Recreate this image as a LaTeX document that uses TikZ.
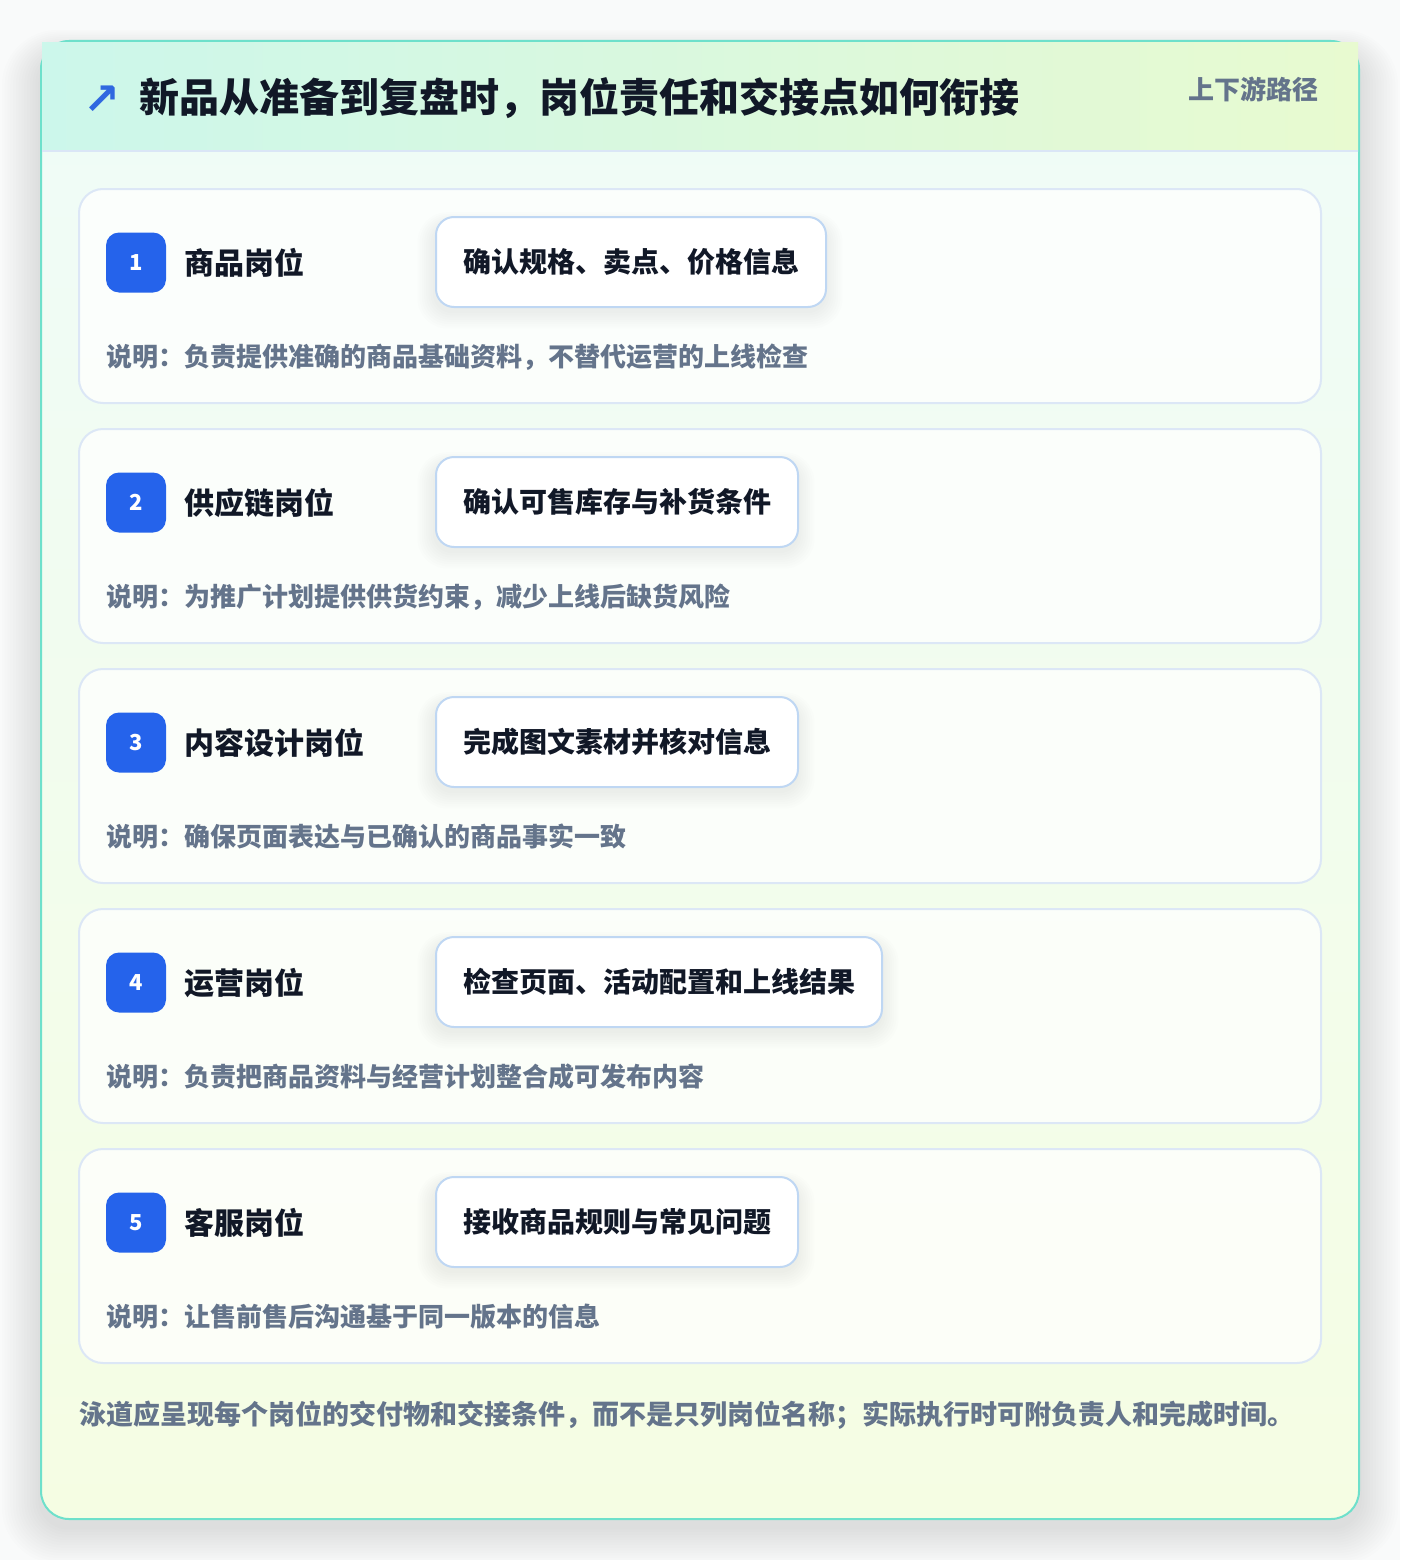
\documentclass[tikz,border=0pt]{standalone}
\usepackage{fontspec}
\setmainfont{Noto Sans CJK SC}
\newfontfamily\symfont{DejaVu Sans}
\definecolor{pagebg}{HTML}{F9FAFA}
\definecolor{ink}{HTML}{111827}
\definecolor{slate}{HTML}{64748B}
\definecolor{badgeblue}{HTML}{2563EB}
\definecolor{arrowblue}{HTML}{3068E0}
\definecolor{cardb}{HTML}{DCE7F6}
\definecolor{actb}{HTML}{BFD7F3}
\definecolor{outerb}{HTML}{6EE0CB}
\definecolor{hdrL}{HTML}{CCF7EB}
\definecolor{hdrR}{HTML}{E8FAD0}
\definecolor{bodyT}{HTML}{EFFCF8}
\definecolor{bodyB}{HTML}{F5FDE3}
\definecolor{sep}{HTML}{DAE6F6}
\tikzset{
  card/.style={draw=cardb, line width=2pt, fill=white, fill opacity=0.75, rounded corners=24pt,
    minimum width=1242pt, minimum height=214pt, inner sep=0pt},
  badge/.style={fill=badgeblue, rounded corners=13pt, minimum width=60pt, minimum height=60pt,
    inner sep=0pt, text=white, font=\bfseries\fontsize{22}{22}\selectfont},
  role/.style={anchor=west, inner sep=0pt, text=ink, font=\bfseries\fontsize{30}{30}\selectfont},
  act/.style={anchor=west, draw=actb, line width=2pt, fill=white, rounded corners=18pt,
    minimum height=90pt, inner xsep=27pt, inner ysep=0pt, text=ink, font=\bfseries\fontsize{28}{28}\selectfont},
  desc/.style={anchor=west, inner sep=0pt, text=slate, font=\bfseries\fontsize{26}{26}\selectfont},
}
\begin{document}
\begin{tikzpicture}[x=1pt,y=-1pt]
\useasboundingbox (0,0) rectangle (1400,1560);
\fill[pagebg] (0,0) rectangle (1400,1560);
% outer shadow
\foreach \k in {1,...,14}{
  \fill[black, opacity=0.007, rounded corners=28pt+\k*2pt]
    (41-\k*2.8,41+14-\k*1.8) rectangle (1359+\k*2.8,1519+8+\k*2.6);
}
% outer card body
\shade[top color=bodyT, bottom color=bodyB, rounded corners=28pt] (41,41) rectangle (1359,1519);
\draw[outerb, line width=2pt, rounded corners=28pt] (41,41) rectangle (1359,1519);
% header
\shade[left color=hdrL, right color=hdrR] (42,42.5) rectangle (1358,151);
\draw[sep, line width=2pt] (42,151) -- (1358,151);
\node[anchor=center, inner sep=0pt, text=arrowblue, font=\symfont\bfseries\fontsize{44}{44}\selectfont] (icon) at (102,100) {↗};
\node[anchor=west, inner sep=0pt, text=ink, font=\bfseries\fontsize{40}{40}\selectfont] (title) at (139,98) {新品从准备到复盘时，岗位责任和交接点如何衔接};
\node[anchor=east, inner sep=0pt, text=slate, font=\bfseries\fontsize{26}{26}\selectfont] (tag) at (1319,89) {上下游路径};
% rows
\foreach \i/\n/\role/\act/\desc in {
  1/12/{商品岗位}/{确认规格、卖点、价格信息}/{说明：负责提供准确的商品基础资料，不替代运营的上线检查},
  2/11/{供应链岗位}/{确认可售库存与补货条件}/{说明：为推广计划提供供货约束，减少上线后缺货风险},
  3/11/{内容设计岗位}/{完成图文素材并核对信息}/{说明：确保页面表达与已确认的商品事实一致},
  4/14/{运营岗位}/{检查页面、活动配置和上线结果}/{说明：负责把商品资料与经营计划整合成可发布内容},
  5/11/{客服岗位}/{接收商品规则与常见问题}/{说明：让售前售后沟通基于同一版本的信息}}{
  \pgfmathsetmacro{\top}{189+240*(\i-1)}
  \pgfmathsetmacro{\right}{435+54+28*\n}
  \node[card] (card\i) at (700,\top+107) {};
  \node[badge] (badge\i) at (136,\top+73.5) {\i};
  \node[role] (role\i) at (184,\top+74) {\role};
  % action shadow
  \foreach \k in {1,...,8}{
    \fill[black, opacity=0.008, rounded corners=18pt+\k*1.5pt]
      (435-\k*2.2,\top+28+8-\k*1.6) rectangle (\right+\k*2.2,\top+118+4+\k*2.2);
  }
  \node[act] (act\i) at (435,\top+73) {\act};
  \node[desc] (desc\i) at (106,\top+168) {\desc};
}
\node[anchor=west, inner sep=0pt, text=slate, font=\bfseries\fontsize{27}{27}\selectfont] (foot) at (79,1415) {泳道应呈现每个岗位的交付物和交接条件，而不是只列岗位名称；实际执行时可附负责人和完成时间。};
\end{tikzpicture}
\end{document}
